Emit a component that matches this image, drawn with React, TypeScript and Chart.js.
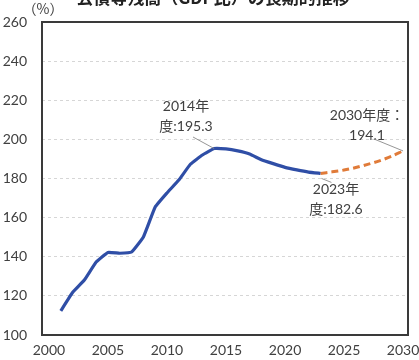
import React, { useEffect, useRef } from "react";
import { Chart, registerables } from "chart.js";

Chart.register(...registerables);

// 実績（年度）
const actualYears = [2001, 2002, 2003, 2004, 2005, 2006, 2007, 2008, 2009, 2010, 2011, 2012, 2013, 2014, 2015, 2016, 2017, 2018, 2019, 2020, 2021, 2022, 2023];
const actualRatio = [112.3, 121.7, 128.1, 137.3, 142.2, 141.8, 142.4, 150.1, 165.4, 172.6, 179.2, 187.4, 192.0, 195.3, 195.1, 194.1, 192.5, 189.6, 187.6, 185.7, 184.4, 183.3, 182.6];

// 試算（年度）
const outlookYears = [2023, 2024, 2025, 2026, 2027, 2028, 2029, 2030];
const outlookRatio = [182.6, 183.4, 184.3, 185.6, 187.2, 189.0, 191.3, 194.1];

const xTicks = [2000, 2005, 2010, 2015, 2020, 2025, 2030];
const yTicks = [100, 120, 140, 160, 180, 200, 220, 240, 260];

const X_MIN = 1999.41;
const X_MAX = 2030.42;
const Y_MIN = 100;
const Y_MAX = 260;

const titleText = "公債等残高（GDP比）の長期的推移";
const unitText = "（%）";

const TEXT = "#404040";
const BLUE = "#2f4ea6";
const ORANGE = "#e07b39";
const FONT = "Lato, 'Noto Sans CJK JP', sans-serif";

const valueOf = (years: number[], vals: number[], year: number) => vals[years.indexOf(year)];

const decorPlugin = {
  id: "decor",
  afterDraw(chart: any) {
    const ctx: CanvasRenderingContext2D = chart.ctx;
    const xs = chart.scales.x;
    const ys = chart.scales.y;
    ctx.save();
    ctx.setLineDash([]);

    // frame round the plot area
    const L = xs.getPixelForValue(X_MIN);
    const R = xs.getPixelForValue(X_MAX);
    const T = ys.getPixelForValue(Y_MAX);
    const B = ys.getPixelForValue(Y_MIN);
    ctx.strokeStyle = "#3a3a3a";
    ctx.lineWidth = 2;
    ctx.strokeRect(L, T, R - L, B - T);

    // title (sits mostly above the canvas top)
    ctx.fillStyle = "#222";
    ctx.font = "bold 17px 'Noto Sans CJK JP', sans-serif";
    ctx.textAlign = "center";
    ctx.textBaseline = "alphabetic";
    ctx.fillText(titleText, 213, 4);

    // unit
    ctx.fillStyle = TEXT;
    ctx.font = "14px 'Noto Sans CJK JP', sans-serif";
    ctx.textBaseline = "middle";
    ctx.fillText(unitText, 43, 9);

    // callouts
    const v2014 = valueOf(actualYears, actualRatio, 2014);
    const v2023 = valueOf(actualYears, actualRatio, 2023);
    const v2030 = valueOf(outlookYears, outlookRatio, 2030);
    const callouts = [
      { year: 2014, value: v2014, lines: ["2014年", "度:" + v2014.toFixed(1)], cx: 186, cy: 106, lx: 193, ly: 137 },
      { year: 2030, value: v2030, lines: ["2030年度：", v2030.toFixed(1)], cx: 367, cy: 115, lx: 374, ly: 139 },
      { year: 2023, value: v2023, lines: ["2023年", "度:" + v2023.toFixed(1)], cx: 336, cy: 189, lx: 0, ly: 0 },
    ];

    ctx.font = "14px " + FONT;
    ctx.textAlign = "center";
    ctx.textBaseline = "middle";
    for (const c of callouts) {
      ctx.fillStyle = TEXT;
      c.lines.forEach((t, i) => ctx.fillText(t, c.cx, c.cy + i * 20));
      const px = xs.getPixelForValue(c.year);
      const py = ys.getPixelForValue(c.value);
      ctx.strokeStyle = "#8a8a8a";
      ctx.lineWidth = 0.9;
      ctx.beginPath();
      if (c.lx) {
        ctx.moveTo(c.lx, c.ly);
        ctx.lineTo(px, py);
      } else {
        ctx.moveTo(px + 1, py + 5);
        ctx.lineTo(px + 11, py + 9);
      }
      ctx.stroke();
    }
    ctx.restore();
  },
};

export default function App() {
  const ref = useRef<HTMLCanvasElement | null>(null);

  useEffect(() => {
    if (!ref.current) return;
    const chart = new Chart(ref.current, {
      type: "line",
      data: {
        datasets: [
          {
            data: actualYears.map((x, i) => ({ x, y: actualRatio[i] })),
            borderColor: BLUE,
            borderWidth: 3.2,
            pointRadius: 0,
            tension: 0.1,
            fill: false,
          },
          {
            data: outlookYears.map((x, i) => ({ x, y: outlookRatio[i] })),
            borderColor: ORANGE,
            borderWidth: 3,
            borderDash: [7, 4],
            pointRadius: 0,
            tension: 0.3,
            fill: false,
          },
        ],
      },
      options: {
        responsive: false,
        animation: false,
        layout: { padding: { top: 22, right: 11, left: 0, bottom: 0 } },
        plugins: { legend: { display: false }, tooltip: { enabled: false } },
        scales: {
          x: {
            type: "linear",
            min: X_MIN,
            max: X_MAX,
            grid: { display: false, drawTicks: false },
            border: { display: false },
            afterBuildTicks: (s: any) => {
              s.ticks = xTicks.map((v) => ({ value: v }));
            },
            afterFit: (s: any) => {
              s.height = 25;
              s.paddingLeft = 0;
              s.paddingRight = 0;
            },
            ticks: {
              autoSkip: false,
              maxRotation: 0,
              padding: 7,
              color: TEXT,
              font: { family: FONT, size: 14 },
              callback: (v: any) => String(v),
            },
          },
          y: {
            type: "linear",
            min: Y_MIN,
            max: Y_MAX,
            afterBuildTicks: (s: any) => {
              s.ticks = yTicks.map((v) => ({ value: v }));
            },
            afterFit: (s: any) => {
              s.width = 42;
              s.paddingTop = 0;
              s.paddingBottom = 0;
            },
            grid: { color: "#d6d6d6", lineWidth: 1, drawTicks: false },
            border: { display: false, dash: [3, 3] },
            ticks: {
              padding: 15,
              color: TEXT,
              font: { family: FONT, size: 14 },
              callback: (v: any) => String(v),
            },
          },
        },
      },
      plugins: [decorPlugin],
    } as any);
    return () => chart.destroy();
  }, []);

  return (
    <div style={{ position: "fixed", left: 0, top: 0, width: 419, height: 360, background: "#fff" }}>
      <canvas ref={ref} width={419} height={360} style={{ display: "block" }} />
    </div>
  );
}
